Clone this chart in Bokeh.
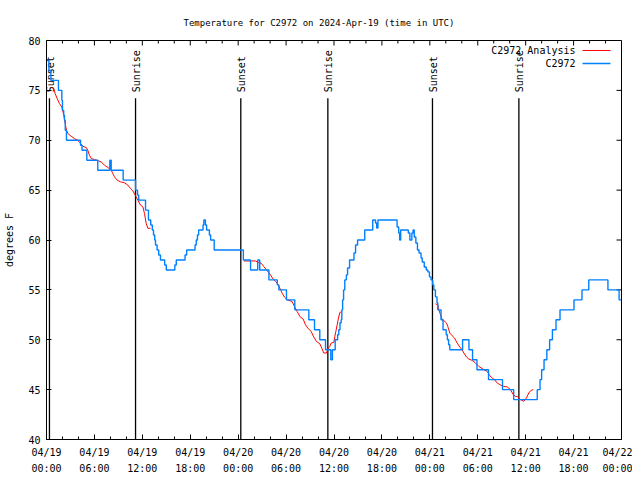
import math
from bokeh.plotting import figure
from bokeh.models import Range1d, FixedTicker
from bokeh.embed import file_html
from bokeh.resources import INLINE
from bokeh.core.properties import value

FONT = "DejaVu Sans Mono"
NAN = float("nan")

# ---------------- data (hours since 2024-04-19 00:00 UTC, degrees F) ----------------
x_tick_hours = [0, 6, 12, 18, 24, 30, 36, 42, 48, 54, 60, 66, 72]
x_tick_labels = ["04/19\n00:00", "04/19\n06:00", "04/19\n12:00", "04/19\n18:00",
                 "04/20\n00:00", "04/20\n06:00", "04/20\n12:00", "04/20\n18:00",
                 "04/21\n00:00", "04/21\n06:00", "04/21\n12:00", "04/21\n18:00",
                 "04/22\n00:00"]
x_minor_hours = [0, 2, 4, 6, 8, 10, 12, 14, 16, 18, 20, 22, 24, 26, 28, 30, 32, 34, 36,
                 38, 40, 42, 44, 46, 48, 50, 52, 54, 56, 58, 60, 62, 64, 66, 68, 70, 72]
y_ticks = [40, 45, 50, 55, 60, 65, 70, 75, 80]

# observed station temperature (stepped)
obs_hours = [0.05, 0.3, 0.55, 1.5, 1.92, 2.0, 2.15, 2.25, 2.35, 2.5,
             4.26, 4.45, 5.05, 6.42, 7.93, 8.1, 9.6, 11.15, 11.4, 11.55,
             12.4, 12.77, 13.05, 13.25, 13.4, 13.55, 13.65, 13.85, 14.05, 14.27,
             14.8, 15.0, 16.07, 16.25, 17.35, 17.55, 18.6, 18.75, 18.9, 19.05,
             19.6, 19.7, 19.9, 20.05, 20.4, 20.55, 21.0, 24.65, 25.55, 26.45,
             26.7, 27.85, 28.9, 29.1, 30.05, 31.09, 32.85, 33.56, 34.22, 34.94,
             35.6, 35.8, 36.15, 36.45, 36.6, 36.75, 36.9, 36.98, 37.08, 37.2,
             37.35, 37.55, 37.7, 37.95, 38.5, 38.7, 38.95, 39.85, 40.85, 41.2,
             41.35, 41.5, 43.9, 44.1, 44.22, 44.35, 45.3, 45.5, 45.75, 45.9,
             46.05, 46.25, 46.45, 46.65, 46.9, 47.05, 47.3, 47.55, 47.75, 47.95,
             48.15, 48.35, 48.5, 48.7, 48.9, 49.0, 49.4, 49.65, 50.05, 50.2,
             50.35, 50.5, 52.1, 52.9, 53.35, 53.9, 55.35, 57.1, 58.5, 61.45,
             61.8, 62.0, 62.3, 62.65, 63.0, 63.35, 63.8, 64.3, 66.05, 67.05,
             67.9, 70.3, 71.7, 71.95]
obs_temps = [78, 77, 76, 75, 74, 73, 72.5, 72, 71, 70,
             69.5, 69, 68, 67, 68, 67, 66, 65, 64.5, 64,
             63, 62, 61.5, 61, 60.5, 60, 59.5, 59, 58.5, 58,
             57.5, 57, 57.5, 58, 58.5, 59, 59.5, 60, 60.5, 61,
             61.5, 62, 61.5, 61, 60.5, 60, 59, 58, 57, 58,
             57, 56, 55.5, 55, 54, 53, 52, 51, 50, 49,
             48, 49, 50, 50.5, 51, 51.7, 52, 53, 54, 55,
             56, 56.5, 57.2, 58, 58.7, 59.5, 60, 61, 62, 61.7,
             61.2, 62, 61.3, 60.7, 60, 61, 60.7, 60, 60.7, 61,
             60.3, 59.7, 59, 58.7, 58.2, 57.8, 57.3, 57, 56.8, 56.3,
             56, 55.5, 55, 54.3, 53.7, 53, 52, 51, 50.5, 50,
             49.5, 49, 50, 49, 48, 47, 46, 45, 44, 45,
             46, 47, 48, 49, 50, 51, 52, 53, 54, 55,
             56, 55, 54, 54]

# analysis series (three pieces, NaN separates them)
ana_hours = [0.67, 0.92, 1.09, 1.34, 1.63, 1.92, 2.17, 2.34, 2.5, 2.67,
             3.09, 3.5, 3.92, 4.26, 4.55, 4.97, 5.17, 5.38, 5.6, 6.01,
             6.51, 6.85, 7.26, 7.68, 8.1, 8.3, 8.51, 8.85, 9.27, 9.77,
             10.18, 10.52, 10.81, 11.1, 11.44, 11.77, 12.06, 12.27, 12.48, 12.69,
             13.02, NAN,
             24.71, 26.17, 26.59, 26.89, 27.21, 27.63, 28.05, 28.39, 28.68, 28.89,
             29.22, 29.51, 29.8, 30.14, 30.76, 31.05, 31.39, 31.72, 32.14, 32.43,
             32.72, 33.14, 33.47, 33.81, 34.22, 34.52, 34.72, 35.06, 35.23, 35.47,
             35.65, 35.98, 36.1, 36.23, 36.4, 36.56, 36.73, 36.9, NAN,
             48.71, 49.0, 49.13, 49.34, 49.55, 49.75, 50.09, 50.25, 50.5, 50.8,
             51.09, 51.42, 51.75, 52.05, 52.26, 52.59, 52.88, 53.3, 53.72, 54.13,
             54.43, 54.76, 55.18, 55.51, 55.81, 56.1, 56.44, 56.76, 57.19, 57.69,
             58.1, 58.44, 58.73, 59.01, 59.35, 59.77, 60.1, 60.39, 60.69, 60.94]
ana_temps = [75.27, 75.17, 74.67, 74.17, 73.67, 73.33, 72.5, 71.67, 71.0, 70.67,
             70.4, 70.17, 70.0, 69.67, 69.4, 69.27, 69.0, 68.5, 68.17, 68.07,
             67.93, 67.83, 67.5, 67.27, 67.0, 66.67, 66.33, 66.0, 65.83, 65.73,
             65.5, 65.17, 64.93, 64.5, 64.0, 63.5, 63.33, 62.67, 61.67, 61.17,
             61.17, NAN,
             57.9, 57.9, 57.73, 57.67, 57.33, 56.93, 56.5, 56.07, 55.83, 55.67,
             55.17, 54.67, 54.27, 54.0, 53.83, 53.33, 52.83, 52.33, 52.07, 51.5,
             51.17, 50.83, 50.27, 49.83, 49.6, 49.07, 48.67, 48.67, 49.07, 49.33,
             49.67, 49.73, 50.33, 50.83, 51.5, 52.17, 52.73, 52.8, NAN,
             53.6, 53.5, 53.0, 52.5, 52.0, 51.93, 51.67, 51.33, 50.67, 50.4,
             50.17, 49.67, 49.27, 49.0, 48.67, 48.27, 48.07, 47.93, 47.67, 47.33,
             47.17, 47.0, 46.83, 46.4, 46.17, 46.0, 45.67, 45.5, 45.33, 45.27,
             45.0, 44.5, 44.33, 44.27, 44.0, 43.83, 44.17, 44.67, 44.93, 45.0]

# sunrise / sunset events
event_hours = [0.37, 11.15, 24.33, 35.23, 48.33, 59.15]
event_labels = ["Sunset", "Sunrise", "Sunset", "Sunrise", "Sunset", "Sunrise"]

series_names = ["C2972 Analysis", "C2972"]
series_colors = ["#ff0000", "#0080ff"]

# ---------------- layout ----------------
X0, X1, Y0, Y1 = 0, 72, 40, 80
W, H = 632, 476
BL, BR, BT, BB = 46, 11, 40, 36
FRAME_W, FRAME_H = W - BL - BR, H - BT - BB
px_x = (X1 - X0) / FRAME_W   # hours per pixel
px_y = (Y1 - Y0) / FRAME_H   # degrees per pixel
MAJOR_TICK, MINOR_TICK = 5, 3

p = figure(width=W, height=H, x_range=Range1d(X0, X1), y_range=Range1d(Y0, Y1),
           output_backend="svg", toolbar_location=None,
           min_border_left=BL, min_border_right=BR, min_border_top=BT, min_border_bottom=BB)
p.background_fill_color = "white"
p.border_fill_color = "white"
p.outline_line_color = "black"
p.outline_line_width = 1
p.xgrid.visible = False
p.ygrid.visible = False

p.title.text = "Temperature for C2972 on 2024-Apr-19 (time in UTC)"
p.title.align = "left"
p.title.offset = 137
p.title.standoff = 26
p.title.text_font = FONT
p.title.text_font_size = "9px"
p.title.text_font_style = "normal"
p.title.text_color = "black"

xt = FixedTicker(ticks=x_tick_hours, minor_ticks=x_minor_hours)
yt = FixedTicker(ticks=y_ticks, minor_ticks=[])

def style_axis(ax):
    ax.axis_line_color = None
    ax.major_tick_in = MAJOR_TICK
    ax.major_tick_out = 0
    ax.minor_tick_in = MINOR_TICK
    ax.minor_tick_out = 0
    ax.major_tick_line_color = "black"
    ax.minor_tick_line_color = "black"
    ax.major_label_text_font = FONT
    ax.major_label_text_color = "black"
    ax.major_label_text_font_size = "10px"

xa = p.xaxis[0]
xa.ticker = xt
xa.major_label_overrides = {h: lab for h, lab in zip(x_tick_hours, x_tick_labels)}
style_axis(xa)
xa.major_label_standoff = 7
xa.major_label_text_line_height = 1.47

ya = p.yaxis[0]
ya.ticker = yt
style_axis(ya)
ya.major_label_standoff = 6
ya.axis_label = "degrees F"
ya.axis_label_text_font = FONT
ya.axis_label_text_font_size = "10px"
ya.axis_label_text_font_style = "normal"
ya.axis_label_text_color = "black"
ya.axis_label_standoff = 10

# mirrored ticks on top and right border
top_major = [Y1 - MAJOR_TICK * px_y] * len(x_tick_hours)
p.segment(x0=x_tick_hours, y0=[Y1] * len(x_tick_hours), x1=x_tick_hours, y1=top_major,
          line_color="black", line_width=1)
minor_only = [h for h in x_minor_hours if h not in x_tick_hours]
p.segment(x0=minor_only, y0=[Y1] * len(minor_only), x1=minor_only,
          y1=[Y1 - MINOR_TICK * px_y] * len(minor_only), line_color="black", line_width=1)
p.segment(x0=[X1] * len(y_ticks), y0=y_ticks, x1=[X1 - MAJOR_TICK * px_x] * len(y_ticks),
          y1=y_ticks, line_color="black", line_width=1)

# sunrise / sunset markers
p.segment(x0=event_hours, y0=[Y0] * len(event_hours), x1=event_hours,
          y1=[74.2] * len(event_hours), line_color="black", line_width=1.3)
p.text(x=event_hours, y=[74.8] * len(event_hours), text=event_labels, angle=math.pi / 2,
       text_align="left", text_baseline="middle", text_font=value(FONT),
       text_font_size="10px", text_color="black", x_offset=1)

# series
p.line(ana_hours, ana_temps, line_color=series_colors[0], line_width=1.0)
p.step(obs_hours, obs_temps, mode="after", line_color=series_colors[1], line_width=1.4)

# key (top right, text left of line sample)
key_text_x = 66.24
key_line_x0, key_line_x1 = 67.12, 70.62
key_rows_y = [79.0, 77.7]
p.text(x=[key_text_x] * 2, y=key_rows_y, text=series_names, text_align="right",
       text_baseline="middle", text_font=value(FONT), text_font_size="10px",
       text_color="black")
p.segment(x0=[key_line_x0] * 2, y0=key_rows_y, x1=[key_line_x1] * 2, y1=key_rows_y,
          line_color=series_colors, line_width=[1.0, 1.4])

open("out.html", "w").write(file_html(p, INLINE))
